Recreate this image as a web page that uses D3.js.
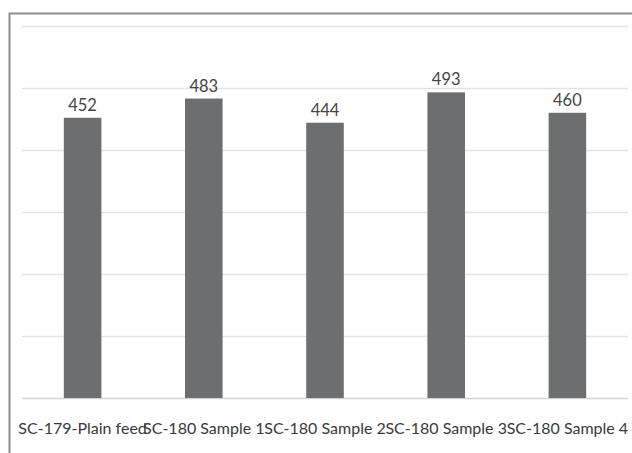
<!DOCTYPE html>
<html><head><meta charset="utf-8">
<script src="https://cdn.jsdelivr.net/npm/d3@7"></script>
<style>body{margin:0;background:#fff;}svg{display:block;}</style>
</head><body>
<svg id="chart" width="632" height="453"></svg>
<script>
const categories = ["SC-179-Plain feed","SC-180 Sample 1","SC-180 Sample 2","SC-180 Sample 3","SC-180 Sample 4"];
const values = [452, 483, 444, 493, 460];
const yTicks = [0, 100, 200, 300, 400, 500, 600];

const svg = d3.select("#chart");
const W = 632, H = 453;
const m = {left: 22, right: 4, top: 26, bottom: 55};

// outer frame
svg.append("rect").attr("x", 9.5).attr("y", 13.5).attr("width", 640).attr("height", 460)
  .attr("fill", "#fff").attr("stroke", "#8c8c8c").attr("stroke-width", 2);

const x = d3.scaleBand().domain(categories).range([m.left, W - m.right]).paddingInner(0.69).paddingOuter(0.345);
const y = d3.scaleLinear().domain([0, 600]).range([H - m.bottom, m.top]);

// gridlines
svg.append("g").selectAll("line").data(yTicks).join("line")
  .attr("x1", m.left).attr("x2", W - m.right)
  .attr("y1", d => Math.round(y(d)) + 0.5).attr("y2", d => Math.round(y(d)) + 0.5)
  .attr("stroke", d => d === 0 ? "#d4d4d4" : "#e4e4e4").attr("stroke-width", 1.5);

// bars
svg.append("g").selectAll("rect").data(values).join("rect")
  .attr("x", (d, i) => x(categories[i]))
  .attr("width", x.bandwidth())
  .attr("y", d => y(d))
  .attr("height", d => y(0) - y(d))
  .attr("fill", "#6d6e70");

// value labels
svg.append("g").selectAll("text").data(values).join("text")
  .attr("x", (d, i) => x(categories[i]) + x.bandwidth() / 2)
  .attr("y", d => y(d) - 7)
  .attr("text-anchor", "middle")
  .attr("font-family", "Lato, 'Open Sans', sans-serif")
  .attr("font-size", 16.5)
  .attr("fill", "#454545")
  .text(d => d);

// x axis labels
svg.append("g").selectAll("text").data(categories).join("text")
  .attr("x", d => x(d) + x.bandwidth() / 2)
  .attr("y", y(0) + 36)
  .attr("text-anchor", "middle")
  .attr("font-family", "Lato, 'Open Sans', sans-serif")
  .attr("font-size", 16)
  .attr("fill", "#3a3a3a")
  .text(d => d);
</script>
</body></html>
